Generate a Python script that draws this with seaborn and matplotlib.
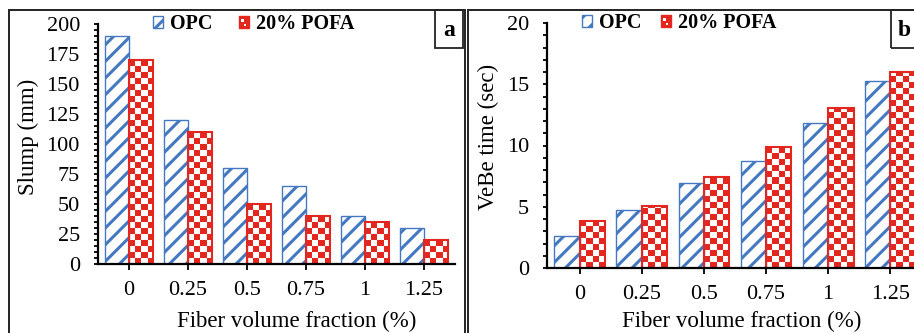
import numpy as np
import pandas as pd
import matplotlib
matplotlib.use("Agg")
import matplotlib.pyplot as plt
import seaborn as sns
from matplotlib.patches import Rectangle, Patch
from matplotlib.legend_handler import HandlerBase
from matplotlib.colors import ListedColormap
from matplotlib.ticker import MultipleLocator

# ---------------- data ----------------
fractions = ["0", "0.25", "0.5", "0.75", "1", "1.25"]
series = ["OPC", "20% POFA"]
slump_opc = [190, 120, 80, 65, 40, 30]
slump_pofa = [170, 110, 50, 40, 35, 20]
vebe_opc = [2.6, 4.7, 6.9, 8.7, 11.8, 15.3]
vebe_pofa = [3.8, 5.1, 7.4, 9.9, 13.1, 16.0]

sns.set_theme(style="white")
plt.rcParams["font.family"] = ["Liberation Serif", "DejaVu Serif"]
plt.rcParams["hatch.linewidth"] = 2.2

BLUE = "#4479c2"
RED = "#e3261e"
W, H = 914, 333

fig = plt.figure(figsize=(W / 100, H / 100), dpi=100)


def fx(px):
    return px / W


def fy(py_img):
    return (H - py_img) / H


def make_df(a, b):
    return pd.DataFrame({
        "fraction": fractions * 2,
        "value": list(a) + list(b),
        "mix": [series[0]] * len(fractions) + [series[1]] * len(fractions),
    })


class CheckerHandler(HandlerBase):
    def create_artists(self, legend, orig_handle, xdescent, ydescent,
                       width, height, fontsize, trans):
        x0, y0 = -xdescent, -ydescent
        outer = Rectangle((x0, y0), width, height, facecolor=RED,
                          edgecolor=RED, lw=1, transform=trans)
        s = width * 0.32
        w1 = Rectangle((x0 + width * 0.18, y0 + height * 0.5), s, s,
                       facecolor="white", edgecolor="none", transform=trans)
        w2 = Rectangle((x0 + width * 0.55, y0 + height * 0.15), s * 0.6, s * 0.6,
                       facecolor="white", edgecolor="none", transform=trans)
        return [outer, w1, w2]


def panel(ax, a, b, ylim, major, minor, ylabel, xlim, ax_px_w,
          xlab_coords, ylab_coords, leg_anchor, colspace, letter, box_x0,
          box_w, letter_x):
    df = make_df(a, b)
    sns.barplot(data=df, x="fraction", y="value", hue="mix", ax=ax,
                width=0.82, dodge=True, legend=False, errorbar=None,
                palette=[BLUE, RED], saturation=1)
    ax.set_xlim(*xlim)
    ax.set_ylim(*ylim)

    # OPC bars: white with blue diagonal stripes
    for p in ax.containers[0]:
        p.set_facecolor("white")
        p.set_edgecolor(BLUE)
        p.set_hatch("//")
        p.set_linewidth(1.0)

    # 20% POFA bars: red/white checkerboard
    xr = xlim[1] - xlim[0]
    ax_px_h = ax.get_position().height * H
    yr = ylim[1] - ylim[0]
    cell = 6.0
    cmap = ListedColormap(["white", RED])
    for p in ax.containers[1]:
        x0, w = p.get_x(), p.get_width()
        y0, h = p.get_y(), p.get_height()
        wpx = w * ax_px_w / xr
        hpx = h * ax_px_h / yr
        nx = max(2, int(round(wpx / cell)))
        ny = max(1, int(np.ceil(hpx / cell)))
        cell_y = cell * yr / ax_px_h
        arr = (np.add.outer(np.arange(ny), np.arange(nx)) % 2).astype(float)
        im = ax.imshow(arr, cmap=cmap, extent=(x0, x0 + w, y0, y0 + ny * cell_y),
                       origin="lower", aspect="auto", interpolation="nearest",
                       zorder=p.get_zorder() - 0.05, vmin=0, vmax=1)
        im.set_clip_path(p)
        p.set_facecolor("none")
        p.set_edgecolor(RED)
        p.set_linewidth(1.5)
    ax.set_xlim(*xlim)
    ax.set_ylim(*ylim)

    for s in ["top", "right"]:
        ax.spines[s].set_visible(False)
    for s in ["left", "bottom"]:
        ax.spines[s].set_color("black")
        ax.spines[s].set_linewidth(1.6)

    ax.yaxis.set_major_locator(MultipleLocator(major))
    ax.yaxis.set_minor_locator(MultipleLocator(minor))
    ax.tick_params(axis="y", which="both", direction="out", length=3,
                   width=1.3, color="black", left=True, labelsize=16, pad=10)
    ax.tick_params(axis="x", which="major", direction="out", length=4,
                   width=1.3, color="black", bottom=True, labelsize=16, pad=8)
    ax.grid(False)
    for t in ax.get_xticklabels() + ax.get_yticklabels():
        t.set_color("black")

    ax.set_xlabel("Fiber volume fraction (%)", fontsize=16.5, color="black")
    ax.set_ylabel(ylabel, fontsize=16.5, color="black")
    ax.xaxis.label.set_va("center")
    ax.yaxis.label.set_va("center")
    ax.xaxis.set_label_coords(*xlab_coords)
    ax.yaxis.set_label_coords(*ylab_coords)

    handles = [Patch(facecolor="white", edgecolor=BLUE, hatch="//", lw=1.0),
               Patch(facecolor=RED, edgecolor=RED)]
    leg = ax.legend(handles, series, loc="center left",
                    bbox_to_anchor=leg_anchor, bbox_transform=fig.transFigure,
                    ncol=2, frameon=False, borderpad=0, borderaxespad=0,
                    handlelength=0.5, handleheight=0.5, handletextpad=0.35,
                    columnspacing=colspace,
                    prop={"weight": "bold", "size": 14.5},
                    handler_map={handles[1]: CheckerHandler()})
    for t in leg.get_texts():
        t.set_color("black")

    # panel letter box
    fig.add_artist(Rectangle((fx(box_x0), fy(48)), fx(box_w), fy(10) - fy(48),
                             transform=fig.transFigure, fill=False,
                             edgecolor="#222222", lw=1.3))
    fig.text(fx(letter_x), fy(30), letter, fontsize=17, fontweight="bold",
             ha="center", va="center", color="black")


# left panel axes
ax1 = fig.add_axes([fx(98), fy(264), fx(357), (264 - 24) / H])
panel(ax1, slump_opc, slump_pofa, (0, 200), 25, 5, "Slump (mm)",
      (-0.525, 5.525), 357,
      ((297 - 98) / 357, (333 - 321 - 69) / 240),
      ((28 - 98) / 357, (196 - 69) / 240),
      (fx(153), fy(24)), 1.3, "a", 435, 28, 449)

# right panel axes
ax2 = fig.add_axes([fx(547), fy(268), fx(376), (268 - 23) / H])
panel(ax2, vebe_opc, vebe_pofa, (0, 20), 5, 1, "VeBe time (sec)",
      (-0.53, 5.53), 376,
      ((742 - 547) / 376, (333 - 321 - 65) / 245),
      ((488 - 547) / 376, (196 - 65) / 245),
      (fx(582), fy(23)), 0.95, "b", 891, 60, 904)

# panel frames
fig.add_artist(Rectangle((fx(9), fy(345)), fx(456), fy(10) - fy(345),
                         transform=fig.transFigure, fill=False,
                         edgecolor="#222222", lw=1.4))
fig.add_artist(Rectangle((fx(468), fy(345)), fx(500), fy(10) - fy(345),
                         transform=fig.transFigure, fill=False,
                         edgecolor="#222222", lw=1.4))

fig.savefig("out.png", dpi=100)
